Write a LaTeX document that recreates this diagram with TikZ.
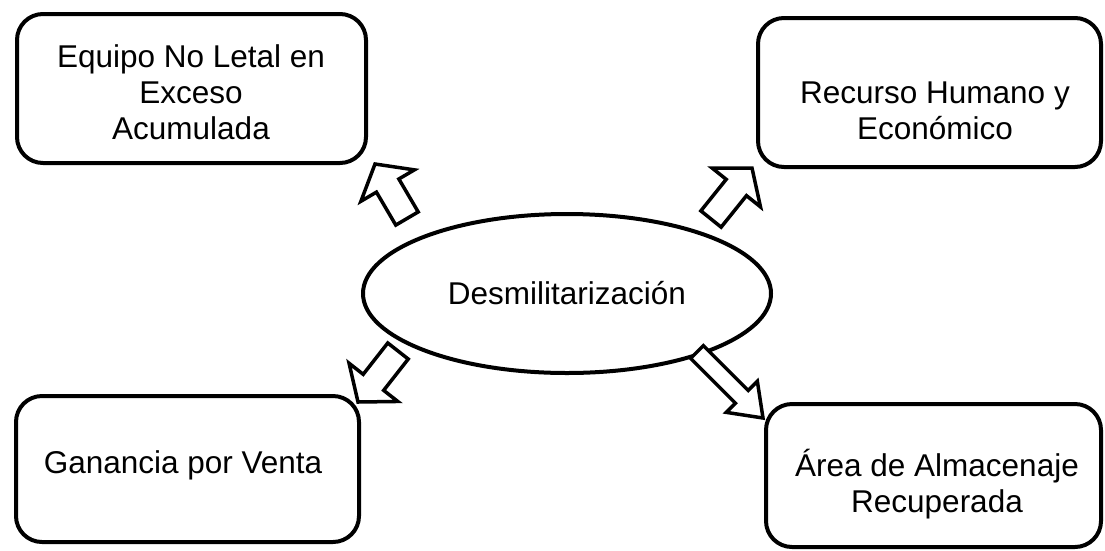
\documentclass[tikz,border=0pt]{standalone}
\usepackage{fontspec}
\setmainfont{Liberation Sans}
\usetikzlibrary{calc,shapes.geometric}
\newcommand{\blockarrow}[5]{%
  \coordinate (hh) at ($(#2)!#5!(#1)$);
  \draw[blk] ($(#1)!#3!90:(#2)$) -- ($(hh)!#3!90:(#2)$) -- ($(hh)!#4!90:(#2)$)
    -- (#2) -- ($(hh)!#4!-90:(#2)$) -- ($(hh)!#3!-90:(#2)$) -- ($(#1)!#3!-90:(#2)$) -- cycle;
}
\begin{document}
\begin{tikzpicture}[x=1pt,y=-1pt,
  box/.style={draw,line width=4pt,rounded corners=26pt,inner sep=0pt},
  txt/.style={align=center,font=\fontsize{31.5}{36}\selectfont,inner sep=0pt},
  blk/.style={draw,line width=3.5pt,line join=miter,fill=white}]
\useasboundingbox (0,0) rectangle (1105,550);

\node[box,minimum width=349pt,minimum height=149pt] (tl) at (191.5,88.5) {};
\node[box,minimum width=343pt,minimum height=149pt] (tr) at (929.5,92.5) {};
\node[box,minimum width=343pt,minimum height=146pt] (bl) at (187.5,469) {};
\node[box,minimum width=335pt,minimum height=143pt] (br) at (933.5,475.5) {};

\node[txt] (tltext) at (191,92) {Equipo No Letal en\\Exceso\\Acumulada};
\node[txt] (trtext) at (935,111) {Recurso Humano y\\Económico};
\node[txt] (bltext) at (183,465) {Ganancia por Venta};
\node[txt] (brtext) at (937,484) {Área de Almacenaje\\Recuperada};

\node[draw,ellipse,line width=4pt,minimum width=408pt,minimum height=159pt,inner sep=0pt,
  font=\fontsize{31.5}{36}\selectfont] (e) at (567,293.5) {Desmilitarización};

\coordinate (a1s) at (407,218.5);
\coordinate (a1e) at (375,164);
\coordinate (a2s) at (711,219);
\coordinate (a2e) at (752,168);
\coordinate (a3s) at (398,351);
\coordinate (a3e) at (358,402);
\coordinate (a4s) at (697,352);
\coordinate (a4e) at (763,418);

\blockarrow{a1s}{a1e}{13pt}{31pt}{25pt}
\blockarrow{a2s}{a2e}{13pt}{31pt}{25pt}
\blockarrow{a3s}{a3e}{13pt}{31pt}{25pt}
\blockarrow{a4s}{a4e}{9pt}{22pt}{30pt}
\end{tikzpicture}
\end{document}
